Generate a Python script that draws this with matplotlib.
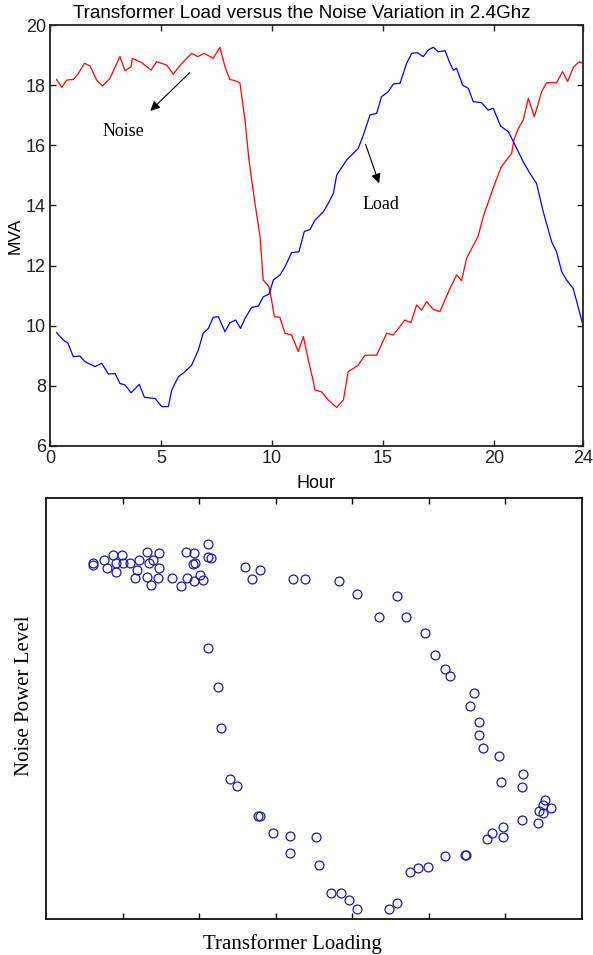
# Transformer load vs noise variation (2.4 GHz) - line chart + scatter
import matplotlib
matplotlib.use("Agg")
import matplotlib.pyplot as plt

# --- Data ---

# Noise curve (red): hour, MVA
noise_hour = [0.3, 0.53, 0.75, 1.05, 1.28, 1.55, 1.8, 2.1, 2.36, 2.7, 3.15, 3.38, 3.65, 3.71,
              4.13, 4.55, 4.8, 5.25, 5.55, 5.93, 6.38, 6.65, 6.95, 7.35, 7.65, 7.88, 8.1, 8.33,
              8.55, 8.78, 8.96, 9.23, 9.46, 9.6, 9.86, 9.98, 10.1, 10.35, 10.58, 10.88, 11.18,
              11.41, 11.63, 11.86, 11.93, 12.23, 12.53, 12.91, 13.21, 13.43, 13.88, 14.18, 14.71,
              15.16, 15.46, 15.98, 16.25, 16.51, 16.73, 16.96, 17.26, 17.56, 17.98, 18.31, 18.53,
              18.76, 19.28, 19.51, 20.03, 20.33, 20.79, 20.89, 21.09, 21.31, 21.54, 21.81, 22.14,
              22.36, 22.81, 23.08, 23.31, 23.56, 23.83, 24.0]
noise_mva = [18.19, 17.92, 18.17, 18.19, 18.39, 18.73, 18.64, 18.17, 17.97, 18.23, 18.95, 18.48,
             18.61, 18.89, 18.75, 18.5, 18.78, 18.67, 18.37, 18.72, 19.06, 18.95, 19.06, 18.89,
             19.26, 18.61, 18.19, 18.15, 18.08, 16.84, 15.51, 14.07, 12.96, 11.52, 11.3, 10.85,
             10.3, 10.28, 9.75, 9.69, 9.14, 9.64, 8.86, 8.14, 7.86, 7.8, 7.53, 7.28, 7.53, 8.47,
             8.69, 9.02, 9.02, 9.75, 9.69, 10.19, 10.1, 10.69, 10.52, 10.8, 10.54, 10.47, 11.19,
             11.69, 11.5, 12.24, 12.98, 13.63, 14.73, 15.29, 15.73, 16.18, 16.56, 16.84, 17.56,
             16.95, 17.78, 18.08, 18.08, 18.45, 18.12, 18.59, 18.78, 18.72]

# Load curve (blue): hour, MVA
load_hour = [0.3, 0.6, 0.8, 1.05, 1.35, 1.58, 2.03, 2.33, 2.63, 2.93, 3.15, 3.38, 3.65, 4.02,
             4.25, 4.73, 5.03, 5.33, 5.48, 5.78, 6.08, 6.38, 6.68, 6.9, 7.13, 7.35, 7.58, 7.88,
             8.1, 8.36, 8.58, 8.78, 9.08, 9.38, 9.6, 9.86, 10.06, 10.36, 10.58, 10.88, 11.21,
             11.45, 11.71, 11.93, 12.31, 12.53, 12.76, 12.91, 13.36, 13.88, 14.11, 14.41, 14.71,
             14.93, 15.23, 15.46, 15.76, 16.06, 16.29, 16.54, 16.81, 17.04, 17.26, 17.48, 17.79,
             17.98, 18.16, 18.31, 18.58, 18.84, 19.06, 19.43, 19.73, 19.96, 20.29, 20.64, 20.94,
             21.31, 21.61, 21.91, 22.21, 22.59, 22.81, 23.04, 23.26, 23.56, 23.78, 24.0]
load_mva = [9.77, 9.52, 9.43, 8.97, 8.99, 8.8, 8.64, 8.75, 8.39, 8.41, 8.08, 8.03, 7.77, 8.05,
            7.62, 7.58, 7.31, 7.31, 7.86, 8.3, 8.47, 8.69, 9.19, 9.75, 9.91, 10.28, 10.3, 9.8,
            10.1, 10.19, 9.91, 10.24, 10.61, 10.65, 10.96, 11.05, 11.52, 11.69, 11.96, 12.43,
            12.46, 13.13, 13.2, 13.51, 13.79, 14.07, 14.4, 15.01, 15.51, 15.9, 16.34, 17.01,
            17.06, 17.62, 17.78, 18.04, 18.06, 18.73, 19.06, 19.08, 18.95, 19.17, 19.26, 19.11,
            19.15, 18.78, 18.5, 18.56, 18.0, 17.89, 17.45, 17.42, 17.17, 17.23, 16.64, 16.45,
            16.01, 15.45, 15.07, 14.73, 13.79, 12.79, 12.46, 11.8, 11.52, 11.24, 10.63, 10.02]

hour_ticks = [0, 5, 10, 15, 20, 24]
mva_ticks = [6, 8, 10, 12, 14, 16, 18, 20]

# Scatter: transformer loading vs noise power level (arbitrary units)
loading = [0.61, 0.62, 0.76, 0.79, 0.88, 0.91, 0.92, 0.99, 1.00, 1.10, 1.21, 1.19, 1.16, 1.32,
           1.35, 1.32, 1.37, 1.40, 1.48, 1.48, 1.46, 1.65, 1.76, 1.83, 1.93, 1.84, 1.92, 1.95,
           1.93, 2.01, 2.05, 2.12, 2.12, 2.16, 2.60, 2.69, 2.80, 3.23, 3.38, 3.83, 4.06, 4.58,
           4.35, 4.70, 4.95, 5.08, 5.21, 5.28, 5.59, 5.54, 5.66, 5.65, 5.71, 5.92, 6.23, 5.94,
           6.21, 6.52, 6.49, 6.59, 6.44, 6.49, 6.21, 6.42, 5.97, 5.82, 5.76, 5.97, 5.47, 5.49,
           5.21, 4.99, 4.86, 4.75, 4.58, 4.48, 4.06, 3.96, 3.85, 3.72, 3.57, 3.52, 3.19, 3.19,
           2.97, 2.77, 2.80, 2.50, 2.40, 2.28, 2.24, 2.12]
noise_power = [4.65, 4.62, 4.69, 4.58, 4.75, 4.65, 4.54, 4.75, 4.65, 4.65, 4.69, 4.56, 4.46,
               4.80, 4.65, 4.47, 4.37, 4.69, 4.78, 4.58, 4.46, 4.46, 4.35, 4.79, 4.78, 4.46,
               4.64, 4.65, 4.41, 4.49, 4.43, 4.90, 4.73, 4.71, 4.60, 4.44, 4.56, 4.44, 4.44,
               4.42, 4.25, 4.22, 3.95, 3.95, 3.74, 3.45, 3.26, 3.17, 2.95, 2.78, 2.58, 2.40,
               2.24, 2.13, 1.90, 1.79, 1.72, 1.55, 1.49, 1.45, 1.41, 1.39, 1.29, 1.25, 1.20,
               1.12, 1.04, 1.07, 0.84, 0.84, 0.82, 0.68, 0.66, 0.61, 0.21, 0.13, 0.13, 0.25,
               0.34, 0.34, 0.71, 1.07, 0.86, 1.08, 1.13, 1.34, 1.34, 1.74, 1.83, 2.50, 3.03,
               3.54]
loading_ticks = [1, 2, 3, 4, 5, 6]

sans = "Liberation Sans"
serif = "Liberation Serif"

fig = plt.figure(figsize=(5.93, 9.55), dpi=100)

# ---- Top chart: load and noise over the day ----
ax1 = fig.add_axes([0.0843, 0.533, 0.8988, 0.4408])
ax1.plot(noise_hour, noise_mva, color="#ff0000", linewidth=0.9)
ax1.plot(load_hour, load_mva, color="#0000ff", linewidth=0.9)
ax1.set_xlim(0, 24)
ax1.set_ylim(6, 20)
ax1.set_xticks(hour_ticks)
ax1.set_yticks(mva_ticks)
ax1.tick_params(direction="in", length=4, width=1, top=True, right=True,
                labelsize=13, pad=3, colors="#222222")
for lbl in ax1.get_xticklabels() + ax1.get_yticklabels():
    lbl.set_family(sans)
for sp in ax1.spines.values():
    sp.set_linewidth(1.3)
    sp.set_color("#222222")
ax1.set_title("Transformer Load versus the Noise Variation in 2.4Ghz",
              fontsize=13.6, family=sans, pad=5, x=0.473)
ax1.set_xlabel("Hour", fontsize=13, family=sans, labelpad=6)
ax1.set_ylabel("MVA", fontsize=12.5, family=sans, labelpad=2)

# arrows pointing to each curve
ax1.annotate("", xy=(4.43, 17.08), xytext=(6.38, 18.48),
             arrowprops=dict(arrowstyle="-|>", color="black", lw=0.8, mutation_scale=14))
ax1.text(3.29, 16.47, "Noise", fontsize=13, family=serif, ha="center", va="center")
ax1.annotate("", xy=(14.86, 14.65), xytext=(14.17, 16.12),
             arrowprops=dict(arrowstyle="-|>", color="black", lw=0.8, mutation_scale=14))
ax1.text(14.89, 14.02, "Load", fontsize=13, family=serif, ha="center", va="center")

# ---- Bottom chart: noise power level vs transformer loading ----
ax2 = fig.add_axes([0.0776, 0.0377, 0.9039, 0.4408])
ax2.plot(loading, noise_power, linestyle="none", marker="o", markersize=6.4,
         markerfacecolor="none", markeredgecolor="#1c1ca6", markeredgewidth=0.9)
ax2.set_xlim(0, 7)
ax2.set_ylim(0, 5.5)
ax2.set_xticks(loading_ticks)
ax2.set_xticklabels([])
ax2.set_yticks([])
ax2.tick_params(direction="in", length=4, width=1, top=True)
for sp in ax2.spines.values():
    sp.set_linewidth(1.3)
    sp.set_color("#111111")
ax2.set_xlabel("Transformer Loading", fontsize=15, family=serif)
ax2.xaxis.set_label_coords(0.459, -0.035)
ax2.set_ylabel("Noise Power Level", fontsize=15, family=serif)
ax2.yaxis.set_label_coords(-0.022, 0.53)

fig.savefig("out.png", dpi=100)
plt.close(fig)
